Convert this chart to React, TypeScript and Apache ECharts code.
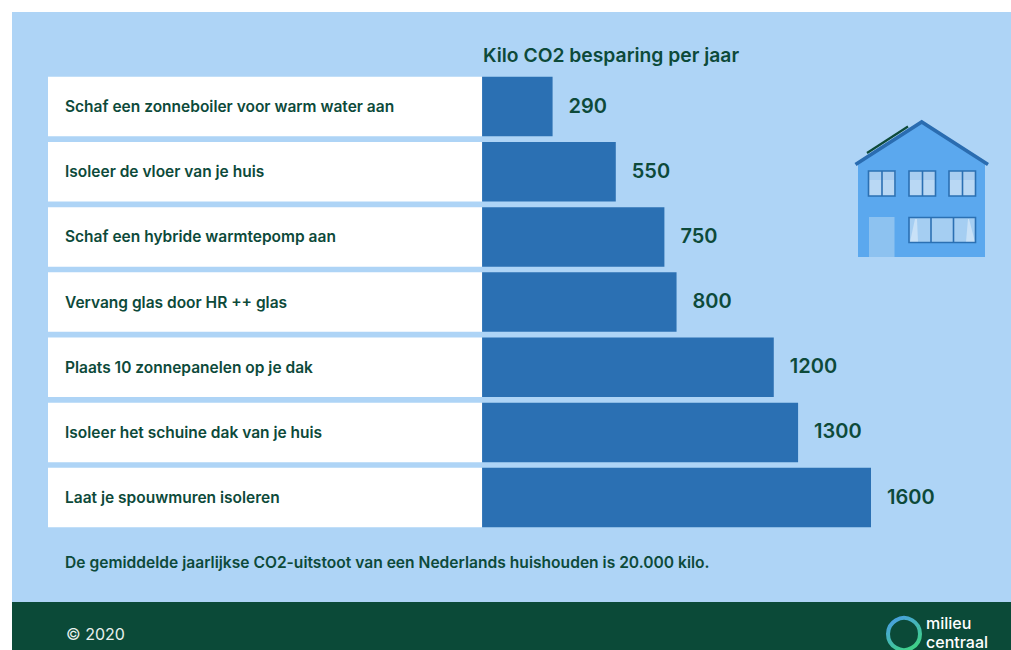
import React, { useEffect, useRef } from "react";
import * as echarts from "echarts";

const categories = [
  "Schaf een zonneboiler voor warm water aan",
  "Isoleer de vloer van je huis",
  "Schaf een hybride warmtepomp aan",
  "Vervang glas door HR ++ glas",
  "Plaats 10 zonnepanelen op je dak",
  "Isoleer het schuine dak van je huis",
  "Laat je spouwmuren isoleren",
];
const savings = [290, 550, 750, 800, 1200, 1300, 1600];
const titleText = "Kilo CO2 besparing per jaar";
const footnote = "De gemiddelde jaarlijkse CO2-uitstoot van een Nederlands huishouden is 20.000 kilo.";
const copyright = "© 2020";
const logoWords = ["milieu", "centraal"];

// The label column is the negative side of the value axis.
const labelColumn = -1786;
const axisMax = 1600;

const DARK_GREEN = "#0d4a3a";
const PANEL = "#aed4f6";
const BAR = "#2b70b3";
const FONT = "Inter, sans-serif";

const rect = (x: number, y: number, width: number, height: number, fill: string, z = 0) => ({
  type: "rect",
  shape: { x, y, width, height },
  style: { fill },
  silent: true,
  z,
});

const bar = (x1: number, y1: number, x2: number, y2: number, stroke: string, lineWidth: number) => ({
  type: "line",
  shape: { x1, y1, x2, y2 },
  style: { stroke, lineWidth },
  silent: true,
  z: 5,
});

const poly = (points: number[][], fill: string) => ({
  type: "polygon",
  shape: { points },
  style: { fill },
  silent: true,
  z: 5,
});

// Two-pane window with its frame.
const upperWindow = (x: number) => [
  rect(x, 171, 27, 25, "#b9d8f4", 5),
  rect(x, 171, 27, 9, "#a9cdf0", 5),
  {
    type: "rect",
    shape: { x, y: 171, width: 26.5, height: 25 },
    style: { fill: "none", stroke: BAR, lineWidth: 1.6 },
    silent: true,
    z: 6,
  },
  { ...bar(x + 13.5, 171, x + 13.5, 196, BAR, 1.6), z: 6 },
];

const house = [
  poly([[858, 164], [921.7, 122], [985, 164], [985, 257], [858, 257]], "#5ba8ee"),
  rect(869, 217, 25.5, 40, "#8dc2f0", 5),
  ...upperWindow(868.5),
  ...upperWindow(909),
  ...upperWindow(949),
  rect(909, 217.5, 66.5, 25, "#a5cef2", 5),
  poly([[910, 242], [918, 242], [917, 219], [915, 219]], "#c8e1f7"),
  poly([[966, 242], [975, 242], [969, 219], [968, 219]], "#c8e1f7"),
  {
    type: "rect",
    shape: { x: 909, y: 217.5, width: 66.5, height: 25 },
    style: { fill: "none", stroke: BAR, lineWidth: 1.6 },
    silent: true,
    z: 6,
  },
  { ...bar(931, 217.5, 931, 242.5, BAR, 1.6), z: 6 },
  { ...bar(953.5, 217.5, 953.5, 242.5, BAR, 1.6), z: 6 },
  {
    type: "polyline",
    shape: { points: [[855.5, 164.5], [921.7, 122], [988, 164.5]] },
    style: { stroke: "#2a6cb0", lineWidth: 3.6, fill: "none" },
    silent: true,
    z: 7,
  },
  bar(867, 153, 908, 126.5, DARK_GREEN, 2.2),
];

const logo = [
  {
    type: "circle",
    shape: { cx: 904, cy: 634, r: 16 },
    style: {
      fill: "none",
      lineWidth: 4,
      stroke: new echarts.graphic.LinearGradient(0, 0, 0.6, 1, [
        { offset: 0, color: "#4a9be8" },
        { offset: 1, color: "#3fd08a" },
      ]),
    },
    silent: true,
    z: 5,
  },
  ...logoWords.map((word, i) => ({
    type: "text",
    x: 926,
    y: 622.5 + i * 19,
    style: {
      text: word,
      fill: "#ffffff",
      font: `500 16px ${FONT}`,
      textAlign: "left",
      textVerticalAlign: "middle",
    },
    silent: true,
    z: 5,
  })),
];

export default function App() {
  const ref = useRef<HTMLDivElement>(null);

  useEffect(() => {
    const chart = echarts.init(ref.current!, null, { renderer: "svg" });
    chart.setOption({
      animation: false,
      backgroundColor: "#ffffff",
      grid: { left: 48, top: 74, width: 823, height: 456.2, containLabel: false },
      xAxis: {
        type: "value",
        min: labelColumn,
        max: axisMax,
        show: false,
        splitLine: { show: false },
      },
      yAxis: {
        type: "category",
        data: categories,
        inverse: true,
        z: 3,
        axisLine: { show: false, onZero: false },
        axisTick: { show: false },
        axisLabel: {
          inside: true,
          margin: 17,
          color: DARK_GREEN,
          fontFamily: FONT,
          fontWeight: 600,
          fontSize: 15.5,
          padding: [0, 0, 4, 0],
        },
      },
      series: [
        {
          name: "Rijen",
          type: "bar",
          data: categories.map(() => labelColumn),
          barWidth: 59.5,
          barGap: "-100%",
          itemStyle: { color: "#ffffff" },
          silent: true,
        },
        {
          name: "Kilo CO2 besparing per jaar",
          type: "bar",
          data: savings,
          barWidth: 59.5,
          itemStyle: { color: BAR },
          silent: true,
          label: {
            show: true,
            position: "right",
            distance: 16,
            offset: [0, -1],
            color: DARK_GREEN,
            fontFamily: FONT,
            fontWeight: 600,
            fontSize: 20,
          },
        },
      ],
      graphic: [
        rect(12, 12, 999, 590, PANEL, -10),
        rect(12, 602, 999, 48, "#0b4a38", -10),
        {
          type: "text",
          x: 483,
          y: 55,
          style: {
            text: titleText,
            fill: DARK_GREEN,
            font: `600 19.3px ${FONT}`,
            textVerticalAlign: "middle",
          },
          silent: true,
        },
        {
          type: "text",
          x: 65,
          y: 562,
          style: {
            text: footnote,
            fill: DARK_GREEN,
            font: `600 15.6px ${FONT}`,
            textVerticalAlign: "middle",
          },
          silent: true,
        },
        {
          type: "text",
          x: 66,
          y: 634,
          style: {
            text: copyright,
            fill: "#e8f1ee",
            font: `400 16px ${FONT}`,
            textVerticalAlign: "middle",
          },
          silent: true,
        },
        ...house,
        ...logo,
      ],
    });
    return () => chart.dispose();
  }, []);

  return (
    <div style={{ position: "fixed", left: 0, top: 0, width: 1011, height: 650, overflow: "hidden" }}>
      <div ref={ref} style={{ width: 1011, height: 650 }} />
    </div>
  );
}
